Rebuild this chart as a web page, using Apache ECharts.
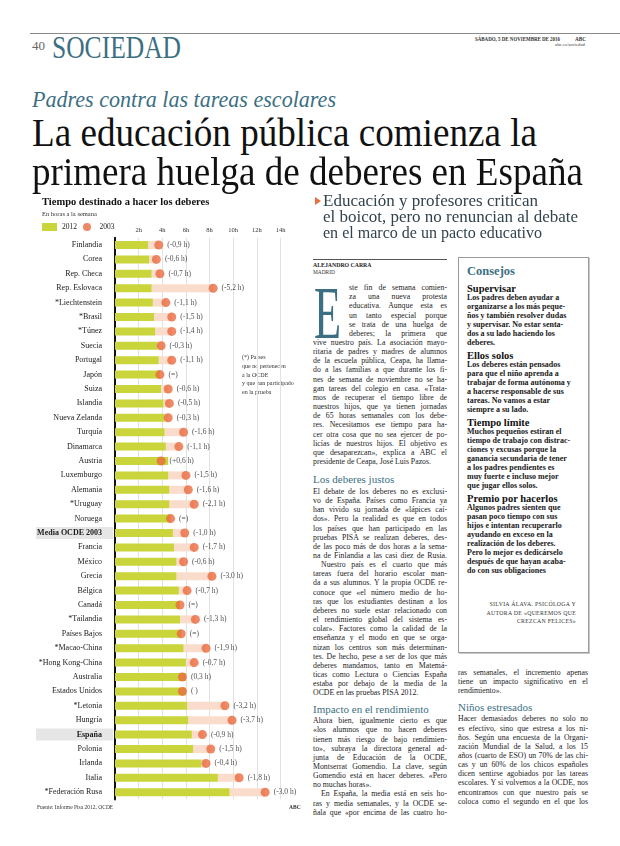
<!DOCTYPE html>
<html><head><meta charset="utf-8">
<script src="https://cdn.jsdelivr.net/npm/echarts@6/dist/echarts.min.js"></script>
<style>
html,body{margin:0;padding:0;background:#fff;}
body{width:620px;height:846px;position:relative;overflow:hidden;font-family:"Liberation Serif",serif;color:#1a1a1a;}
#chart{position:absolute;left:30px;top:188px;width:280px;height:632px;}
</style></head>
<body>
<div id="chart"></div>
<script>
// ---------------- chart data ----------------
const categories = ['Finlandia','Corea','Rep. Checa','Rep. Eslovaca','*Liechtenstein','*Brasil','*Túnez','Suecia','Portugal','Japón','Suiza','Islandia','Nueva Zelanda','Turquía','Dinamarca','Austria','Luxemburgo','Alemania','*Uruguay','Noruega','Media OCDE 2003','Francia','México','Grecia','Bélgica','Canadá','*Tailandia','Países Bajos','*Macao-China','*Hong Kong-China','Australia','Estados Unidos','*Letonia','Hungría','España','Polonia','Irlanda','Italia','*Federación Rusa'];
const hours2012 = [2.8,2.9,3.1,3.1,3.2,3.3,3.4,3.6,3.7,3.8,3.9,4.1,4.2,4.2,4.3,4.5,4.5,4.6,4.6,4.7,4.9,5.0,5.2,5.2,5.4,5.5,5.5,5.6,5.8,6.0,6.0,6.0,6.1,6.2,6.5,6.6,7.3,8.7,9.7];
const hours2003 = [3.7,3.5,3.8,8.3,4.3,4.8,4.8,3.9,4.8,3.8,4.5,4.6,4.5,5.8,5.4,3.9,6.0,6.2,6.7,4.7,5.9,6.7,5.8,8.2,6.1,5.5,6.8,5.6,7.7,6.7,5.7,5.7,9.3,9.9,7.4,8.1,7.7,10.5,12.7];
const changeLabels = ['(-0,9 h)','(-0,6 h)','(-0,7 h)','(-5,2 h)','(-1,1 h)','(-1,5 h)','(-1,4 h)','(-0,3 h)','(-1,1 h)','(=)','(-0,6 h)','(-0,5 h)','(-0,3 h)','(-1,6 h)','(-1,1 h)','(+0,6 h)','(-1,5 h)','(-1,6 h)','(-2,1 h)','(=)','(-1,0 h)','(-1,7 h)','(-0,6 h)','(-3,0 h)','(-0,7 h)','(=)','(-1,3 h)','(=)','(-1,9 h)','(-0,7 h)','(0,3 h)','( )','(-3,2 h)','(-3,7 h)','(-0,9 h)','(-1,5 h)','(-0,4 h)','(-1,8 h)','(-3,0 h)'];
const highlighted = ['Media OCDE 2003','España'];
const tickHours = [0,2,4,6,8,10,12,14];

const GREEN='#c9d53a', PINK='#fadccd', ORANGE='#ea6a3e';
const FONT='"Liberation Serif", serif';
const gap = hours2003.map((v,i)=>Math.max(0, +(v-hours2012[i]).toFixed(2)));

const chart = echarts.init(document.getElementById('chart'), null, {renderer:'canvas'});
chart.setOption({
  animation:false,
  textStyle:{fontFamily:FONT},
  title:{text:'Tiempo destinado a hacer los deberes', subtext:'En horas a la semana', left:7, top:4, itemGap:3,
    textStyle:{fontSize:10.5,fontWeight:'bold',color:'#111',fontFamily:FONT},
    subtextStyle:{fontSize:6.5,color:'#333',fontFamily:FONT}},
  legend:{left:7, top:30, itemWidth:15, itemHeight:8, itemGap:6, selectedMode:false,
    textStyle:{fontSize:7.5,color:'#222',fontFamily:FONT},
    data:[{name:'2012',icon:'rect'},{name:'2003',icon:'circle'}]},
  grid:{left:85, right:29.5, top:49.8, bottom:20.6},
  xAxis:{type:'value', position:'top', min:tickHours[0], max:tickHours[tickHours.length-1], interval:2,
    axisLine:{show:false}, axisTick:{show:false},
    splitLine:{lineStyle:{color:'#e2e2e2',width:1}},
    axisLabel:{fontSize:6.5,color:'#333',margin:4,fontFamily:FONT, formatter:v=>v===0?'':v+'h'}},
  yAxis:{type:'category', inverse:true, data:categories,
    axisLine:{lineStyle:{color:'#111',width:2}}, axisTick:{show:false},
    axisLabel:{margin:2, interval:0,
      formatter:v=> highlighted.includes(v) ? '{hl|'+v+'}' : '{n|'+v+'}',
      rich:{
        n:{fontSize:8,color:'#1a1a1a',fontFamily:FONT,padding:[0,11,0,0]},
        hl:{fontSize:8,fontWeight:'bold',color:'#1a1a1a',fontFamily:FONT,backgroundColor:'#e6e6e6',width:66,align:'right',padding:[2,11,2,0]}
      }}},
  series:[
    {name:'2012',type:'bar',stack:'t',data:hours2012,barWidth:8,itemStyle:{color:GREEN},z:3},
    {name:'gap',type:'bar',stack:'t',data:gap,barWidth:8,itemStyle:{color:PINK},z:2},
    {name:'2003',type:'scatter',data:hours2003.map((v,i)=>[v,categories[i]]),symbolSize:9,itemStyle:{color:ORANGE},z:4,
      label:{show:true,position:'right',distance:4,fontSize:7.5,color:'#222',fontFamily:FONT,formatter:p=>changeLabels[p.dataIndex]}}
  ],
  graphic:[
    {type:'text',left:212,top:165,style:{text:'(*) Países\nque no pertenecen\na la OCDE\ny que han participado\nen la prueba',fontSize:6,lineHeight:8.8,fill:'#333',fontFamily:FONT}},
    {type:'text',left:7,top:617,style:{text:'Fuente: Informe Pisa 2012, OCDE',fontSize:5.5,fill:'#333',fontFamily:FONT}},
    {type:'text',left:259,top:617,style:{text:'ABC',fontSize:5.5,fontWeight:'bold',fill:'#333',fontFamily:FONT}}
  ]
});

// ---------------- page text ----------------
function place(o){
  const d=document.createElement('div');
  const s=document.createElement('span');
  s.textContent=o.text; d.appendChild(s);
  const fs=o.fs;
  const top = (o.baseline!==undefined) ? o.baseline-0.8375*fs : o.cy-0.5*fs;
  d.style.cssText=`position:absolute;left:${o.x}px;top:${top}px;font-size:${fs}px;line-height:1;white-space:nowrap;color:${o.color||'#1a1a1a'};font-family:${o.font||FONT};font-weight:${o.weight||'normal'};font-style:${o.style||'normal'};letter-spacing:${o.ls||0}px;`;
  document.body.appendChild(d);
  s.style.display='inline-block';
  let nat=s.getBoundingClientRect().width;
  let fin=nat;
  if(o.w){
    if(nat>o.w || o.mode==='fit'){ s.style.transformOrigin='0 0'; s.style.transform=`scaleX(${o.w/nat})`; fin=o.w; }
    else if(o.mode==='justify'){ const n=(o.text.match(/ /g)||[]).length; if(n){ s.style.wordSpacing=((o.w-nat)/n)+'px'; fin=o.w; } }
  }
  if(o.right!==undefined){ d.style.left=(o.right-fin)+'px'; }
  return d;
}
function box(x,y,w,h,css){const d=document.createElement('div');d.style.cssText=`position:absolute;left:${x}px;top:${y}px;width:${w}px;height:${h}px;${css}`;document.body.appendChild(d);return d;}

const TEAL='#3c6f83';
// header
box(30,33,590,0,'border-top:1px solid #8a8a8a;');
place({text:'40',x:32,baseline:50,fs:13,color:'#666'});
place({text:'SOCIEDAD',x:52,baseline:58,fs:31,color:TEAL,w:129,mode:'fit'});
place({text:'SÁBADO, 5 DE NOVIEMBRE DE 2016',x:475,baseline:41,fs:5.2,weight:'bold',color:'#333',w:85,mode:'fit'});
place({text:'ABC',x:575,baseline:41,fs:5.2,weight:'bold',color:'#333'});
place({text:'abc.es/sociedad',x:550,baseline:47,fs:4.8,color:'#444',right:585});
place({text:'Padres contra las tareas escolares',x:32,baseline:107,fs:23,style:'italic',color:TEAL,w:304,mode:'fit'});
place({text:'La educación pública comienza la',x:32,baseline:146,fs:40,color:'#111',w:505,mode:'fit'});
place({text:'primera huelga de deberes en España',x:32,baseline:185,fs:40,color:'#111',w:551,mode:'fit'});

// subheadline
box(315,197,0,0,'border-left:6px solid #e8703f;border-top:4px solid transparent;border-bottom:4px solid transparent;');
const SUB='#33434d';
place({text:'Educación y profesores critican',x:323,baseline:206.5,fs:17,color:SUB,w:215,mode:'fit'});
place({text:'el boicot, pero no renuncian al debate',x:323,baseline:222.5,fs:17,color:SUB,w:255,mode:'fit'});
place({text:'en el marco de un pacto educativo',x:323,baseline:238.5,fs:17,color:SUB,w:219,mode:'fit'});

// column 1
box(313,259,134,0,'border-top:1px solid #555;');
place({text:'ALEJANDRO CARRA',x:313,cy:266,fs:5.8,weight:'bold',color:'#222'});
place({text:'MADRID',x:313,cy:273,fs:5.4,color:'#333'});
const E=place({text:'E',x:314,baseline:338,fs:74,color:TEAL});
E.firstChild.style.transformOrigin='0 0'; E.firstChild.style.transform='scaleX(0.6)';

function para(lines, ind0){
  return lines.map((t,i)=>({text:t, last:i===lines.length-1, indent: (typeof ind0==='function')? ind0(i) : (i===0?ind0:0)}));
}
function flowCol(x,w,cy,L,items,base){
  items.forEach(it=>{
    if(it.head){ cy+=it.before; place(Object.assign({x, cy},it.head)); cy+=it.after; return; }
    const ind=it.indent||0;
    place(Object.assign({}, base, {text:it.text, x:x+ind, cy, w:w-ind, mode: it.last?null:'justify'}));
    cy+=L;
  });
  return cy;
}
const BODY={fs:7.8,color:'#1c1c1c'};
const L1=9.15;
const headStyle=(t,b)=>({head:{text:t,fs:11,color:TEAL},before:b-L1,after:12});
const p2=para(['El debate de los deberes no es exclusi-','vo de España. Países como Francia ya','han vivido su jornada de «lápices caí-','dos». Pero la realidad es que en todos','los países que han participado en las','pruebas PISA se realizan deberes, des-','de las poco más de dos horas a la sema-','na de Finlandia a las casi diez de Rusia.'],0);
p2[p2.length-1].last=false;
const p5=para(['En España, la media está en seis ho-','ras y media semanales, y la OCDE se-','ñala que «por encima de las cuatro ho-'],8);
p5[p5.length-1].last=false;
let col1=[].concat(
  para(['ste fin de semana comien-','za una nueva protesta','educativa. Aunque esta es','un tanto especial porque','se trata de una huelga de','deberes; la primera que','vive nuestro país. La asociación mayo-','ritaria de padres y madres de alumnos','de la escuela pública, Ceapa, ha llama-','do a las familias a que durante los fi-','nes de semana de noviembre no se ha-','gan tareas del colegio en casa. «Trata-','mos de recuperar el tiempo libre de','nuestros hijos, que ya tienen jornadas','de 65 horas semanales con los debe-','res. Necesitamos ese tiempo para ha-','cer otra cosa que no sea ejercer de po-','licías de nuestros hijos. El objetivo es','que desaparezcan», explica a ABC el','presidente de Ceapa, José Luis Pazos.'], i=>i<6?36:0),
  [headStyle('Los deberes justos',18)],
  p2,
  para(['Nuestro país es el cuarto que más','tareas fuera del horario escolar man-','da a sus alumnos. Y la propia OCDE re-','conoce que «el número medio de ho-','ras que los estudiantes destinan a los','deberes no suele estar relacionado con','el rendimiento global del sistema es-','colar». Factores como la calidad de la','enseñanza y el modo en que se orga-','nizan los centros son más determinan-','tes. De hecho, pese a ser de los que más','deberes mandamos, tanto en Matemá-','ticas como Lectura o Ciencias España','estaba por debajo de la media de la','OCDE en las pruebas PISA 2012.'],8),
  [headStyle('Impacto en el rendimiento',16)],
  para(['Ahora bien, igualmente cierto es que','«los alumnos que no hacen deberes','tienen más riesgo de bajo rendimien-','to», subraya la directora general ad-','junta de Educación de la OCDE,','Montserrat Gomendio. La clave, según','Gomendio está en hacer deberes. «Pero','no muchas horas».'],0),
  p5
);
flowCol(313,134,288,L1,col1,BODY);

// Consejos box
box(458,257,129,394,'border:1px solid #9a9a9a;box-shadow:1px 1px 0 #c8c8c8;');
place({text:'Consejos',x:467,cy:271,fs:12.5,weight:'bold',color:TEAL});
const BOX={fs:8,weight:'bold',color:'#1a1a1a'};
const LB=9.0;
const bh=t=>({head:{text:t,fs:10.5,weight:'bold',color:'#111'},before:13-LB,after:9});
const boxItems=[].concat(
  [{head:{text:'Supervisar',fs:10.5,weight:'bold',color:'#111'},before:0,after:9}],
  ['Los padres deben ayudar a','organizarse a los más peque-','ños y también resolver dudas','y supervisar. No estar senta-','dos a su lado haciendo los','deberes.'].map(t=>({text:t,last:true})),
  [bh('Ellos solos')],
  ['Los deberes están pensados','para que el niño aprenda a','trabajar de forma autónoma y','a hacerse responsable de sus','tareas. No vamos a estar','siempre a su lado.'].map(t=>({text:t,last:true})),
  [bh('Tiempo límite')],
  ['Muchos pequeños estiran el','tiempo de trabajo con distrac-','ciones y excusas porque la','ganancia secundaria de tener','a los padres pendientes es','muy fuerte e incluso mejor','que jugar ellos solos.'].map(t=>({text:t,last:true})),
  [bh('Premio por hacerlos')],
  ['Algunos padres sienten que','pasan poco tiempo con sus','hijos e intentan recuperarlo','ayudando en exceso en la','realización de los deberes.','Pero lo mejor es dedicárselo','después de que hayan acaba-','do con sus obligaciones'].map(t=>({text:t,last:true}))
);
flowCol(467,118,289,LB,boxItems,BOX);
['SILVIA ÁLAVA. PSICÓLOGA Y','AUTORA DE «QUEREMOS QUE','CREZCAN FELICES»'].forEach((t,i)=>place({text:t,x:0,right:576,cy:605+i*8.4,fs:5.8,color:'#333',ls:0.3}));

// column 2 body
const p7=para(['Hacer demasiados deberes no solo no','es efectivo, sino que estresa a los ni-','ños. Según una encuesta de la Organi-','zación Mundial de la Salud, a los 15','años (cuarto de ESO) un 70% de las chi-','cas y un 60% de los chicos españoles','dicen sentirse agobiados por las tareas','escolares. Y si volvemos a la OCDE, nos','encontramos con que nuestro país se','coloca como el segundo en el que los'],0);
p7[p7.length-1].last=false;
const col2=[].concat(
  para(['ras semanales, el incremento apenas','tiene un impacto significativo en el','rendimiento».'],0),
  [{head:{text:'Niños estresados',fs:11,color:TEAL},before:16-L1,after:12}],
  p7
);
flowCol(458,130,673,L1,col2,BODY);
</script>
</body></html>
